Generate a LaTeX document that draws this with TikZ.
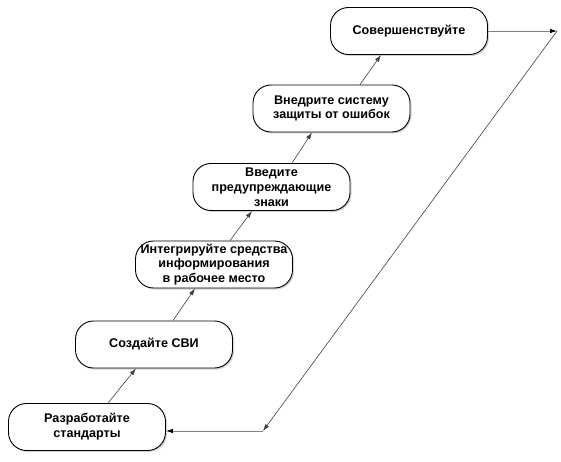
\documentclass[tikz,border=0pt]{standalone}
\usepackage{fontspec}
\setmainfont{Liberation Sans}
\usetikzlibrary{arrows.meta,shadows}
\begin{document}
\begin{tikzpicture}[x=1pt,y=-1pt,
  stepbox/.style={draw=black, line width=0.9pt, fill=white, rounded corners=18pt,
    minimum width=157pt, minimum height=47pt, inner sep=1pt, align=center,
    font=\fontsize{12.6}{14.8}\selectfont\bfseries,
    drop shadow={shadow xshift=1.5pt, shadow yshift=-1.5pt, opacity=0.35, fill=gray}},
  arr/.style={draw=black!75, line width=0.6pt, -{Latex[length=7pt,width=4.5pt]}},
  grayarr/.style={draw=black!50, line width=0.8pt, -{Latex[length=7pt,width=4.5pt,color=black]}}
]
\useasboundingbox (0,0) rectangle (561,462);
\node[stepbox] (b1) at (87,427) {Разработайте\\стандарты};
\node[stepbox] (b2) at (154,344.5) {Создайте СВИ};
\node[stepbox] (b3) at (214,264.5) {Интегрируйте средства\\информирования\\в рабочее место};
\node[stepbox] (b4) at (271.5,187) {Введите\\предупреждающие\\знаки};
\node[stepbox] (b5) at (331.5,108.5) {Внедрите систему\\защиты от ошибок};
\node[stepbox] (b6) at (409,31) {Совершенствуйте};
\coordinate (c1) at (557,31);
\coordinate (c2) at (263,431);
\draw[arr] ([xshift=21pt]b1.north) -- ([xshift=-18pt]b2.south);
\draw[arr] ([xshift=19pt]b2.north) -- ([xshift=-19pt]b3.south);
\draw[arr] ([xshift=16pt]b3.north) -- ([xshift=-19.5pt]b4.south);
\draw[arr] ([xshift=20.5pt]b4.north) -- ([xshift=-19.5pt]b5.south);
\draw[arr] ([xshift=28.5pt]b5.north) -- ([xshift=-28pt]b6.south);
\draw[grayarr] (b6.east) -- (c1);
\draw[arr] (c1) -- (c2);
\draw[grayarr] (c2) -- (b1.east |- c2);
\end{tikzpicture}
\end{document}
